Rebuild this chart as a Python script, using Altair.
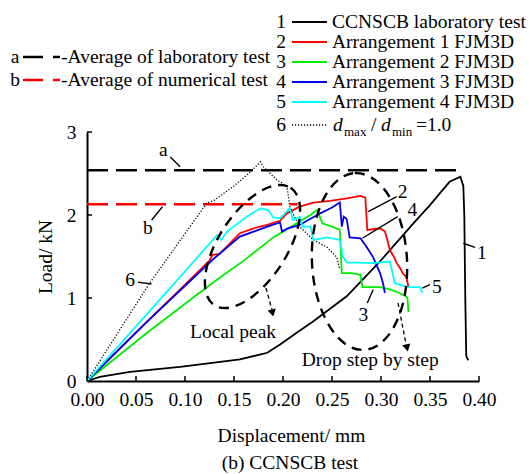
import altair as alt
import pandas as pd

# ---------------- data ----------------
lab_x = [0.000, 0.013, 0.044, 0.095, 0.136, 0.156, 0.184, 0.197, 0.214, 0.231, 0.265, 0.299,
         0.333, 0.350, 0.360, 0.370, 0.377, 0.381, 0.384, 0.385, 0.386, 0.387, 0.389]
lab_y = [0.00, 0.05, 0.11, 0.17, 0.23, 0.26, 0.34, 0.44, 0.58, 0.72, 1.02, 1.44,
         1.90, 2.12, 2.26, 2.40, 2.44, 2.46, 2.35, 2.00, 1.00, 0.30, 0.25]

arr1_x = [0.000, 0.060, 0.100, 0.125, 0.128, 0.135, 0.156, 0.170, 0.184, 0.197, 0.204, 0.217,
          0.231, 0.248, 0.265, 0.279, 0.284, 0.286, 0.299, 0.304, 0.306, 0.309, 0.313, 0.316,
          0.320, 0.322, 0.326, 0.328]
arr1_y = [0.00, 0.70, 1.16, 1.45, 1.52, 1.53, 1.78, 1.84, 1.88, 1.93, 2.02, 2.10,
          2.15, 2.17, 2.20, 2.23, 2.21, 1.82, 1.84, 1.80, 1.72, 1.58, 1.50, 1.42,
          1.35, 1.30, 1.25, 1.13]

arr2_x = [0.000, 0.060, 0.110, 0.136, 0.160, 0.190, 0.217, 0.228, 0.235, 0.240, 0.250, 0.258,
          0.260, 0.270, 0.279, 0.281, 0.299, 0.310, 0.319, 0.325, 0.327, 0.328]
arr2_y = [0.00, 0.57, 1.02, 1.25, 1.45, 1.73, 1.92, 2.00, 2.06, 1.90, 1.86, 1.82,
          1.30, 1.30, 1.28, 1.13, 1.13, 1.10, 1.06, 1.02, 1.00, 0.83]

arr3_x = [0.000, 0.060, 0.129, 0.156, 0.184, 0.197, 0.199, 0.205, 0.217, 0.238, 0.250, 0.258,
          0.260, 0.262, 0.265, 0.268, 0.279, 0.285, 0.292, 0.299, 0.302, 0.304]
arr3_y = [0.00, 0.70, 1.47, 1.74, 1.86, 1.91, 1.80, 1.84, 1.88, 2.02, 2.09, 2.15,
          1.86, 1.98, 1.95, 1.73, 1.72, 1.62, 1.49, 1.30, 1.18, 1.06]

arr4_x = [0.000, 0.060, 0.133, 0.137, 0.143, 0.163, 0.177, 0.185, 0.190, 0.197, 0.207, 0.210,
          0.217, 0.220, 0.228, 0.231, 0.245, 0.258, 0.261, 0.265, 0.292, 0.309, 0.314, 0.327,
          0.340, 0.342]
arr4_y = [0.00, 0.79, 1.76, 1.70, 1.80, 1.98, 2.08, 2.06, 1.97, 1.96, 2.08, 1.94,
          1.98, 1.86, 1.86, 1.70, 1.73, 1.70, 1.50, 1.43, 1.42, 1.44, 1.18, 1.13,
          1.13, 1.06]

uni_x = [0.000, 0.064, 0.122, 0.130, 0.150, 0.165, 0.177, 0.180, 0.187, 0.194, 0.200, 0.204,
         0.207, 0.210, 0.217, 0.231, 0.245, 0.255, 0.258]
uni_y = [0.00, 1.18, 2.14, 2.18, 2.35, 2.50, 2.64, 2.58, 2.50, 2.42, 2.38, 2.34,
         2.10, 2.02, 1.86, 1.70, 1.61, 1.49, 1.34]

avg_lab = 2.54
avg_num = 2.13
avg_lab_end = 0.38
avg_num_end = 0.215

x_ticks = [0.00, 0.05, 0.10, 0.15, 0.20, 0.25, 0.30, 0.35, 0.40]
y_ticks = [0, 1, 2, 3]

legend_nums = ["1", "2", "3", "4", "5"]
legend_labels = ["CCNSCB laboratory test", "Arrangement 1 FJM3D", "Arrangement 2 FJM3D",
                 "Arrangement 3 FJM3D", "Arrangement 4 FJM3D"]
legend_colors = ["#000000", "#ff0000", "#00ee00", "#0000ee", "#00ffff"]
avg_letters = ["a", "b"]
avg_labels = ["-Average of laboratory test", "-Average of numerical test"]
avg_colors = ["#000000", "#ff0000"]

ann_text = ["a", "b", "6", "2", "4", "5", "3", "1", "Local peak", "Drop step by step"]
ann_x = [0.078, 0.062, 0.044, 0.322, 0.332, 0.357, 0.282, 0.403, 0.149, 0.289]
ann_y = [2.78, 1.84, 1.22, 2.28, 2.06, 1.13, 0.80, 1.54, 0.59, 0.25]

lead_x1 = [0.085, 0.066, 0.052, 0.287, 0.281, 0.342, 0.292, 0.384]
lead_y1 = [2.70, 1.94, 1.19, 2.04, 1.72, 1.12, 1.10, 1.66]
lead_x2 = [0.095, 0.077, 0.066, 0.316, 0.317, 0.350, 0.286, 0.396]
lead_y2 = [2.58, 2.10, 1.17, 2.22, 1.98, 1.16, 0.94, 1.61]

# ---------------- layout ----------------
W, H = 392, 249
X0, Y0 = 87, 132
XMAX, YMAX = 0.40, 3.0
FONT = "Liberation Serif, Times New Roman, DejaVu Serif, serif"
FS = 19.5


def dx(px):
    return (px - X0) / W * XMAX


def dy(py):
    return (Y0 + H - py) / H * YMAX


def ellipse_path(rx):
    k = 0.5523
    return (f"M 0 -1 C {k*rx:.3f} -1 {rx:.3f} {-k:.3f} {rx:.3f} 0 "
            f"C {rx:.3f} {k:.3f} {k*rx:.3f} 1 0 1 "
            f"C {-k*rx:.3f} 1 {-rx:.3f} {k:.3f} {-rx:.3f} 0 "
            f"C {-rx:.3f} {-k:.3f} {-k*rx:.3f} -1 0 -1 Z")


xs = alt.Scale(domain=[0, XMAX], nice=False, zero=False)
ys = alt.Scale(domain=[0, YMAX], nice=False, zero=False)
xaxis = alt.Axis(values=x_ticks, format=".2f", title="Displacement/ mm", ticks=False, grid=False,
                 domainColor="black", domainWidth=2, labelPadding=9, labelFlush=False,
                 labelOverlap=False, titleX=204, titleY=54, titleBaseline="middle")
yaxis = alt.Axis(values=y_ticks, format="d", title="Load/ kN", ticks=False, grid=False,
                 domainColor="black", domainWidth=2, labelPadding=11, labelOverlap=False,
                 titleX=-42, titleY=124.5, titleAngle=270, titleBaseline="middle")
X = alt.X("x:Q", scale=xs, axis=xaxis)
Y = alt.Y("y:Q", scale=ys, axis=yaxis)


def curve(xv, yv, color, width=1.8, dash=None):
    df = pd.DataFrame({"x": xv, "y": yv, "i": range(len(xv))})
    kw = dict(color=color, strokeWidth=width)
    if dash:
        kw["strokeDash"] = dash
    return alt.Chart(df).mark_line(**kw).encode(x=X, y=Y, order="i:Q")


def rules(x1, y1, x2, y2, **kw):
    df = pd.DataFrame({"x": x1, "y": y1, "x2": x2, "y2": y2})
    return alt.Chart(df).mark_rule(**kw).encode(x=X, y=Y, x2="x2:Q", y2="y2:Q")


def texts(xv, yv, tv, align="center", **kw):
    df = pd.DataFrame({"x": xv, "y": yv, "t": tv})
    return alt.Chart(df).mark_text(font=FONT, fontSize=kw.pop("fontSize", FS), align=align,
                                   baseline="middle", color="black", **kw).encode(
        x=X, y=Y, text="t:N")


layers = []
# average lines
layers.append(rules([0], [avg_lab], [avg_lab_end], [avg_lab], color="black", strokeWidth=2.5,
                    strokeDash=[21, 8]))
layers.append(rules([0], [avg_num], [avg_num_end], [avg_num], color="#ff0000", strokeWidth=2.5,
                    strokeDash=[21, 8]))
# curves
layers.append(curve(lab_x, lab_y, "black", 1.8))
layers.append(curve(uni_x, uni_y, "black", 1.3, [1.2, 1.8]))
layers.append(curve(arr2_x, arr2_y, legend_colors[2]))
layers.append(curve(arr1_x, arr1_y, legend_colors[1]))
layers.append(curve(arr3_x, arr3_y, legend_colors[3]))
layers.append(curve(arr4_x, arr4_y, legend_colors[4]))

# inward ticks
tx = XMAX * 5 / W
ty = YMAX * 5 / H
layers.append(rules(x_ticks, [0] * len(x_ticks), x_ticks, [ty] * len(x_ticks), color="black",
                    strokeWidth=1.5))
layers.append(rules([0] * len(y_ticks), y_ticks, [tx] * len(y_ticks), y_ticks, color="black",
                    strokeWidth=1.5))

# leader lines and labels
layers.append(rules(lead_x1, lead_y1, lead_x2, lead_y2, color="black", strokeWidth=1.4))
layers.append(texts(ann_x, ann_y, ann_text))

# ellipses
ell = pd.DataFrame({"x": [dx(252.5)], "y": [dy(246.5)]})
layers.append(alt.Chart(ell).mark_point(shape=ellipse_path(34 / 70), size=140 ** 2, angle=33,
                                        filled=False, color="black", strokeWidth=2.4,
                                        strokeDash=[10, 7], opacity=1).encode(x=X, y=Y))
ell2 = pd.DataFrame({"x": [dx(359.5)], "y": [dy(261.5)]})
layers.append(alt.Chart(ell2).mark_point(shape=ellipse_path(47.5 / 88.5), size=177 ** 2, angle=357,
                                         filled=False, color="black", strokeWidth=2.4,
                                         strokeDash=[10, 7], opacity=1).encode(x=X, y=Y))
# arrows
layers.append(rules([dx(266), dx(398)], [dy(288), dy(303)], [dx(272), dx(406)], [dy(310), dy(344)],
                    color="black", strokeWidth=1.3, strokeDash=[4, 3]))
heads = pd.DataFrame({"x": [dx(272.5), dx(407)], "y": [dy(313), dy(348)], "a": [347, 348]})
layers.append(alt.Chart(heads).mark_point(shape="triangle-down", size=70, filled=True,
                                          color="black", opacity=1).encode(
    x=X, y=Y, angle=alt.Angle("a:Q", scale=None)))

# legend: right group
ry = [dy(p) for p in [22, 42, 62, 82, 102]]
layers.append(texts([dx(281)] * 5, ry, legend_nums))
leg = pd.DataFrame({"x": [dx(292)] * 5, "y": ry, "x2": [dx(327)] * 5, "y2": ry, "c": legend_colors})
layers.append(alt.Chart(leg).mark_rule(strokeWidth=2).encode(
    x=X, y=Y, x2="x2:Q", y2="y2:Q", color=alt.Color("c:N", scale=None)))
layers.append(texts([dx(332)] * 5, ry, legend_labels, align="left"))
# row 6
r6 = dy(125)
r6s = dy(132)
layers.append(texts([dx(281)], [r6], ["6"]))
layers.append(rules([dx(292)], [r6], [dx(327)], [r6], color="black", strokeWidth=1.3,
                    strokeDash=[1.2, 1.8]))
layers.append(texts([dx(333), dx(381)], [r6, r6], ["d", "d"], align="left", fontStyle="italic"))
layers.append(texts([dx(344), dx(392)], [r6s, r6s], ["max", "min"], align="left", fontSize=13))
layers.append(texts([dx(371), dx(416)], [r6, r6], ["/", "=1.0"], align="left"))

# legend: left group
ly = [dy(57), dy(80)]
layers.append(texts([dx(15)] * 2, ly, avg_letters))
lg = pd.DataFrame({"x": [dx(23)] * 2, "y": ly, "x2": [dx(60)] * 2, "y2": ly, "c": avg_colors})
layers.append(alt.Chart(lg).mark_rule(strokeWidth=2.5, strokeDash=[20, 10]).encode(
    x=X, y=Y, x2="x2:Q", y2="y2:Q", color=alt.Color("c:N", scale=None)))
layers.append(texts([dx(61)] * 2, ly, avg_labels, align="left"))

# caption
layers.append(texts([dx(290)], [dy(463)], ["(b) CCNSCB test"]))

chart = alt.layer(*layers).properties(
    width=W, height=H,
    padding={"left": X0, "top": Y0, "right": 531 - X0 - W, "bottom": 474 - Y0 - H},
    autosize=alt.AutoSizeParams(type="none"),
    background="white",
).configure_view(stroke=None).configure_axis(
    labelFont=FONT, labelFontSize=FS, labelColor="black",
    titleFont=FONT, titleFontSize=FS, titleFontWeight="normal", titleColor="black",
)

chart.save("out.html", embed_options={"renderer": "svg", "actions": False})
